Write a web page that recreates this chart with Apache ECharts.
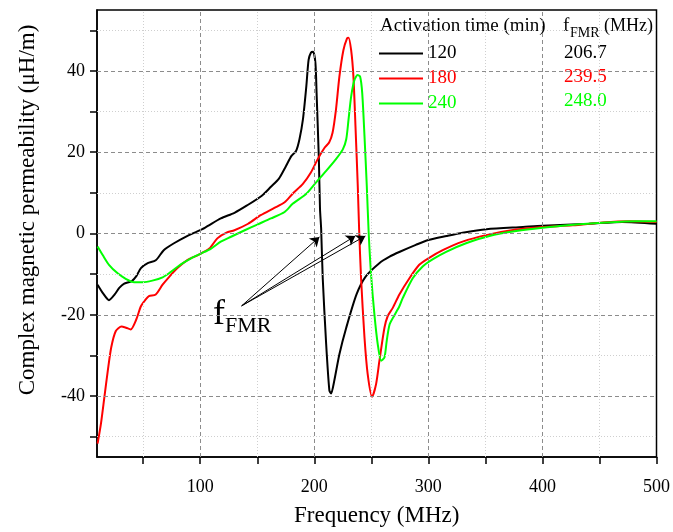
<!DOCTYPE html>
<html>
<head>
<meta charset="utf-8">
<style>
    html, body { margin: 0; padding: 0; background: #fff; }
    #chart { width: 673px; height: 532px; }
</style>
<script src="https://cdn.jsdelivr.net/npm/echarts/dist/echarts.min.js"></script>
</head>
<body>
<div id="chart"></div>
<script>
    // 数据 [频率 MHz, 磁导率 μH/m]
    var seriesNames = ['120', '180', '240'];
    var fmrValues = ['206.7', '239.5', '248.0'];

    var data120 = [[10,-12.6],[15,-14.8],[20,-16.4],[25,-15],[29,-13.4],[33,-12.4],[40,-11.7],[44,-10.5],
        [48,-8.5],[54,-7.3],[61,-6.6],[68,-4.1],[77,-2.4],[88,-0.7],[95,0.2],[104,1.4],[118,3.7],[130,5.1],
        [141,6.9],[154,9.3],[162,11.5],[169,13.5],[175,16.5],[180,19.1],[184,20.3],[187,23.2],[190,28],
        [193,36.2],[195,42.7],[197,44.5],[199,44.7],[201,41.9],[202,34.6],[204,18.3],[205,6.1],[206,1.2],
        [207.4,-11],[210.4,-27.2],[213.2,-38.6],[214.7,-39.4],[217.6,-36.1],[222,-29.7],[228,-23.2],
        [237,-15],[245,-10.6],[257,-7.3],[266,-5.7],[275,-4.5],[289,-2.8],[300,-1.6],[316,-0.6],[330,0.2],
        [351,1.05],[383,1.6],[400,1.9],[441,2.4],[470,2.85],[500,2.4]];

    var data180 = [[10,-51.7],[13,-46.7],[16,-40.2],[19,-33.7],[22,-28],[26,-24],[31,-22.9],[35,-23.2],
        [39,-23.6],[44,-21.1],[48,-17.9],[52,-16.3],[55,-15.4],[61,-15],[67,-12.6],[73,-10.6],[80,-8.5],
        [89,-6.5],[98,-5.3],[108,-3.7],[115,-1.2],[123,0.2],[130,0.8],[142,2.4],[153,4.5],[165,6.3],
        [174,7.7],[181,9.8],[190,12.2],[197,15],[203,18.3],[209,21.1],[213,22.4],[216,24.8],[219,30.5],
        [222,38.6],[225.5,45.1],[228.7,48],[230,48.2],[232.3,45.1],[234.3,38.6],[236.1,26.4],[238.1,11.8],
        [239.3,1],[241,-11],[244,-25.6],[246.8,-34.6],[250.7,-40.2],[254.2,-37],[257.1,-31.3],[261.5,-23.2],
        [264.4,-20.3],[268.8,-18.3],[274.6,-15],[283.4,-11],[292,-7.7],[300,-6.1],[312.6,-4.1],[330,-2],
        [350.6,-0.4],[377,0.97],[400,1.6],[426.6,2],[453,2.7],[476,3],[500,2.85]];

    var data240 = [[10,-3.2],[14.5,-5.3],[20,-7.7],[27.6,-9.8],[35,-11.2],[42,-12],[49.5,-12],[58,-11.6],
        [67,-10.8],[74,-9.5],[83,-7.6],[92,-6.1],[101,-4.9],[109.5,-3.7],[118,-2],[127,-0.8],[139,0.8],
        [150,2.2],[162,3.7],[174,5.3],[181,7.3],[193,9.8],[201.6,12.6],[210.4,15.4],[219,18.3],[225,20.7],
        [228,23.2],[230,28],[232.3,33.7],[235.2,37.8],[238,39],[240.2,38.6],[242,34.6],[244,24],[246,11.8],
        [247.7,0],[249.8,-10.2],[252.7,-19.9],[255.6,-27.2],[258.6,-31.3],[261.5,-30.5],[263.5,-26.4],
        [266,-22.4],[270.3,-20.1],[274.6,-17.9],[277.5,-15.9],[286.3,-11],[295,-8.1],[304,-6.3],
        [315.6,-4.5],[333,-2.4],[353.5,-0.6],[377,0.6],[400,1.4],[429.6,2.2],[456,2.7],[482,3],[500,3]];

    // 刻度
    var xLabels = [100, 200, 300, 400, 500];
    var xTicks = [50, 100, 150, 200, 250, 300, 350, 400, 450, 500];
    var xMinorGrid = [50, 150, 250, 350, 450];
    var yLabels = [-40, -20, 0, 20, 40];
    var yTicks = [-50, -40, -30, -20, -10, 0, 10, 20, 30, 40, 50];
    var yMinorGrid = [-50, -30, -10, 10, 30, 50];

    // f_FMR 箭头
    var arrowFrom = [136.3, -17.8];
    var arrowTips = [[204.5, -0.85], [236, -0.6], [244.8, -0.6]];

    var colors = ['#000000', '#ff0000', '#00ff00'];
    var font = "'Liberation Serif', 'Times New Roman', serif";

    var majorStyle = {color: '#8c8c8c', width: 1, type: [4, 3]};
    var minorStyle = {color: '#cfcfcf', width: 1, type: [1, 2]};

    var gridLines = [];
    xLabels.slice(0, 4).forEach(function (v) { gridLines.push({xAxis: v, lineStyle: majorStyle}); });
    xMinorGrid.forEach(function (v) { gridLines.push({xAxis: v, lineStyle: minorStyle}); });
    yLabels.forEach(function (v) { gridLines.push({yAxis: v, lineStyle: majorStyle}); });
    yMinorGrid.forEach(function (v) { gridLines.push({yAxis: v, lineStyle: minorStyle}); });

    var arrows = arrowTips.map(function (t) {
        return [{coord: arrowFrom}, {coord: t}];
    });

    function curve(name, data, color) {
        return {
            name: name,
            type: 'line',
            data: data,
            symbol: 'none',
            smooth: 0.25,
            z: 3,
            lineStyle: {color: color, width: 2},
            itemStyle: {color: color}
        };
    }

    var myChart = echarts.init(document.getElementById('chart'));
    myChart.setOption({
        animation: false,
        grid: {
            left: 97, right: 16, top: 10, bottom: 71,
            show: true, borderColor: '#000', borderWidth: 1.5
        },
        legend: {
            orient: 'vertical',
            left: 379,
            top: 44,
            padding: 0,
            icon: 'rect',
            itemWidth: 44,
            itemHeight: 2,
            itemGap: 6,
            selectedMode: false,
            textStyle: {fontFamily: font, fontSize: 19, lineHeight: 18},
            data: seriesNames.map(function (n, i) {
                return {name: n, textStyle: {color: colors[i]}};
            })
        },
        xAxis: {
            type: 'value',
            min: 9.5,
            max: 500,
            name: 'Frequency (MHz)',
            nameLocation: 'middle',
            nameGap: 47,
            nameTextStyle: {fontFamily: font, fontSize: 23, color: '#000'},
            axisLine: {onZero: false, lineStyle: {color: '#000', width: 1.5}},
            axisTick: {customValues: xTicks, length: 7, lineStyle: {color: '#000', width: 1.5}},
            axisLabel: {customValues: xLabels, margin: 21, fontFamily: font, fontSize: 18, color: '#000'},
            splitLine: {show: false}
        },
        yAxis: {
            type: 'value',
            min: -55,
            max: 55,
            name: 'Complex magnetic permeability (μH/m)',
            nameLocation: 'middle',
            nameGap: 58,
            nameTextStyle: {fontFamily: font, fontSize: 23, color: '#000', padding: [0, 0, 0, 47]},
            axisLine: {onZero: false, lineStyle: {color: '#000', width: 1.5}},
            axisTick: {customValues: yTicks, length: 7, lineStyle: {color: '#000', width: 1.5}},
            axisLabel: {customValues: yLabels, margin: 12, fontFamily: font, fontSize: 18, color: '#000'},
            splitLine: {show: false}
        },
        series: [
            {
                name: 'grid',
                type: 'line',
                data: [],
                z: 1,
                markLine: {silent: true, symbol: ['none', 'none'], label: {show: false}, data: gridLines}
            },
            curve(seriesNames[0], data120, colors[0]),
            curve(seriesNames[1], data180, colors[1]),
            curve(seriesNames[2], data240, colors[2]),
            {
                name: 'arrows',
                type: 'line',
                data: [],
                z: 4,
                markLine: {
                    silent: true,
                    symbol: ['none', 'arrow'],
                    symbolSize: 9,
                    label: {show: false},
                    lineStyle: {color: '#000', width: 1, type: 'solid'},
                    data: arrows
                }
            }
        ],
        graphic: [
            // 图例表头
            {type: 'text', x: 380, y: 26, style: {text: 'Activation time (min)', fontFamily: font, fontSize: 19, fill: '#000', verticalAlign: 'middle'}},
            {type: 'text', x: 563, y: 26, style: {text: 'f', fontFamily: font, fontSize: 19, fill: '#000', verticalAlign: 'middle'}},
            {type: 'text', x: 570, y: 33.5, style: {text: 'FMR', fontFamily: font, fontSize: 14, fill: '#000', verticalAlign: 'middle'}},
            {type: 'text', x: 604, y: 26, style: {text: '(MHz)', fontFamily: font, fontSize: 18, fill: '#000', verticalAlign: 'middle'}},
            {type: 'text', x: 564, y: 53.5, style: {text: fmrValues[0], fontFamily: font, fontSize: 19, fill: colors[0], verticalAlign: 'middle'}},
            {type: 'text', x: 564, y: 77.5, style: {text: fmrValues[1], fontFamily: font, fontSize: 19, fill: colors[1], verticalAlign: 'middle'}},
            {type: 'text', x: 564, y: 101, style: {text: fmrValues[2], fontFamily: font, fontSize: 19, fill: colors[2], verticalAlign: 'middle'}},
            // 标注 f_FMR
            {type: 'text', x: 213, y: 315, style: {text: 'f', fontFamily: font, fontSize: 36, fill: '#000', verticalAlign: 'middle'}},
            {type: 'text', x: 225, y: 326.5, style: {text: 'FMR', fontFamily: font, fontSize: 22, fill: '#000', verticalAlign: 'middle'}}
        ]
    });
</script>
</body>
</html>
